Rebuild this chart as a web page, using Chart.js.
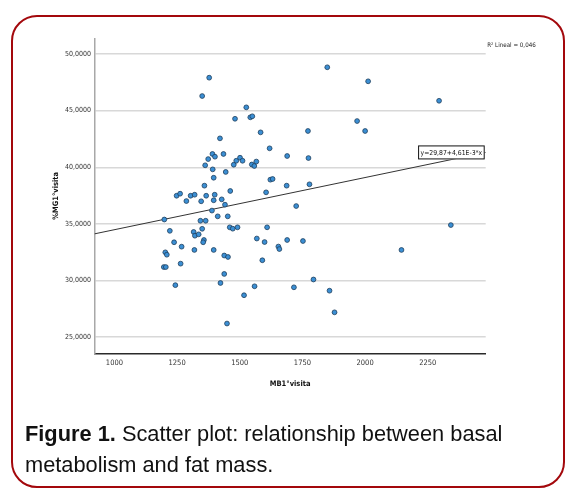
<!DOCTYPE html>
<html>
<head>
<meta charset="utf-8">
<script src="https://cdn.jsdelivr.net/npm/chart.js@4.4.1/dist/chart.umd.min.js"></script>
<style>
  html, body { margin:0; padding:0; background:#fff; width:574px; height:497px; overflow:hidden; }
  #frame { position:absolute; left:11px; top:15px; width:554px; height:473px; box-sizing:border-box;
           border:2.5px solid #a3080c; border-radius:26px; }
  #c { position:absolute; left:0; top:0; }
  #caption { position:absolute; left:25px; top:418px; font-family:'Liberation Sans', Arial, sans-serif;
             font-size:21.8px; line-height:31px; color:#111; white-space:nowrap; }
</style>
</head>
<body>
<div id="frame"></div>
<canvas id="c" width="574" height="497"></canvas>
<div id="caption"><b>Figure 1.</b> Scatter plot: relationship between basal<br>metabolism and fat mass.</div>
<script>
// Basal metabolism at first visit (MB1°visita)
const mbVisit = [1378,1350,1526,1481,1542,1550,1421,1583,1619,1689,1391,1435,1374,1401,1362,1392,1444,1476,1486,1501,1511,1548,1558,1566,1396,1359,1462,1622,1631,1605,1687,1725,1248,1262,1287,1304,1320,1346,1366,1396,1400,1428,1441,1389,1343,1364,1412,1452,1199,1460,1472,1491,1609,1221,1316,1321,1336,1350,1357,1354,1238,1268,1319,1396,1203,1209,1438,1453,1264,1197,1205,1438,1423,1243,1449,1568,1599,1590,1654,1658,1689,1752,1794,1559,1716,1517,1849,2012,2295,1968,1772,2000,1774,1778,2145,2342,1858,1878];
// Fat mass % at first visit (%MG1°visita)
const mgVisit = [47.91,46.29,45.29,44.28,44.41,44.50,42.55,43.08,41.67,40.99,41.17,41.17,40.72,40.93,40.17,39.81,39.58,40.22,40.57,40.84,40.57,40.24,40.11,40.50,39.07,38.37,37.90,38.90,38.96,37.78,38.37,36.57,37.48,37.66,37.01,37.48,37.57,36.99,37.48,37.08,37.57,37.16,36.69,36.17,35.27,35.27,35.66,35.66,35.38,34.69,34.57,34.69,34.69,34.38,34.28,33.95,34.07,34.56,33.57,33.37,33.37,32.98,32.69,32.69,32.48,32.27,32.20,32.07,31.48,31.18,31.18,30.57,29.77,29.58,26.19,33.70,33.39,31.78,32.99,32.77,33.57,33.48,30.08,29.48,29.39,28.69,48.83,47.59,45.87,44.08,43.20,43.20,40.81,38.49,32.69,34.89,29.09,27.18];
const xTicks = [1000,1250,1500,1750,2000,2250];
const yTicks = [25,30,35,40,45,50];
const xRange = [920.5, 2481];
const yRange = [23.56, 51.39];
const fitIntercept = 29.87;
const fitSlope = 0.00461;
const fitLabel = 'y=29,87+4,61E-3*x';
const r2Label = 'R² Lineal = 0,046';
const xTitle = 'MB1°visita';
const yTitle = '%MG1°visita';

const points = mbVisit.map((x,i)=>({x:x, y:mgVisit[i]}));
const fitLine = xRange.map(x=>({x:x, y:fitIntercept + fitSlope*x}));

const smallFont = "'Liberation Sans Narrow','DejaVu Sans Condensed','Liberation Sans',sans-serif";

const annot = {
  id:'annot',
  afterDatasetsDraw(chart){
    const {ctx, chartArea:a, scales:{x,y}} = chart;
    ctx.save();
    // equation box
    ctx.font = "6.8px " + smallFont;
    const tw = ctx.measureText(fitLabel).width;
    const bw = tw + 5, bh = 14;
    const yEnd = y.getPixelForValue(fitIntercept + fitSlope*xRange[1]);
    const bx = a.right - bw - 1, by = yEnd - bh/2;
    ctx.fillStyle = '#fff';
    ctx.fillRect(bx, by, bw, bh);
    ctx.strokeStyle = '#111';
    ctx.lineWidth = 1;
    ctx.strokeRect(bx+0.5, by+0.5, bw-1, bh-1);
    ctx.fillStyle = '#111';
    ctx.textBaseline = 'middle';
    ctx.textAlign = 'left';
    ctx.fillText(fitLabel, bx+2.5, by+bh/2+0.5);
    // R2 label
    ctx.font = "6.2px " + smallFont;
    ctx.fillStyle = '#222';
    ctx.fillText(r2Label, a.right + 1.5, 45.7);
    ctx.restore();
  }
};

new Chart(document.getElementById('c'), {
  type:'scatter',
  data:{
    datasets:[
      { type:'line', data:fitLine, borderColor:'#333', borderWidth:1, pointRadius:0, fill:false, order:2 },
      { data:points, backgroundColor:'#3b8fd4', borderColor:'#1d3d5c', borderWidth:0.8, pointRadius:2.4, pointHoverRadius:2.4, order:1 }
    ]
  },
  options:{
    responsive:false,
    animation:false,
    events:[],
    layout:{ padding:{ left:0, top:38.3, right:88.3, bottom:103.7 } },
    plugins:{ legend:{display:false}, tooltip:{enabled:false} },
    scales:{
      x:{
        type:'linear', min:xRange[0], max:xRange[1],
        afterBuildTicks(s){ s.ticks = xTicks.map(v=>({value:v})); },
        afterFit(s){ s.height = 40; },
        grid:{ display:false, drawTicks:false },
        border:{ display:true, color:'#2a2a2a', width:1.5 },
        ticks:{ padding:5, color:'#333', font:{ family:smallFont, size:7.5 }, maxRotation:0, autoSkip:false,
                callback:(v)=>String(v) },
        title:{ display:true, text:xTitle, color:'#111', font:{ family:smallFont, size:7.5, weight:'bold' }, padding:{top:0,bottom:4.5} }
      },
      y:{
        type:'linear', min:yRange[0], max:yRange[1],
        afterBuildTicks(s){ s.ticks = yTicks.map(v=>({value:v})); },
        afterFit(s){ s.width = 94.5; },
        grid:{ color:'#d8d8d8', lineWidth:1.4, drawTicks:false },
        border:{ display:true, color:'#a8a8a8', width:1.5 },
        ticks:{ padding:3.5, color:'#333', font:{ family:smallFont, size:7 }, autoSkip:false,
                callback:(v)=>v.toFixed(4).replace('.',',') },
        title:{ display:true, text:yTitle, color:'#111', font:{ family:smallFont, size:7.5, weight:'bold' }, padding:{top:52,bottom:0} }
      }
    }
  },
  plugins:[annot]
});
</script>
</body>
</html>
